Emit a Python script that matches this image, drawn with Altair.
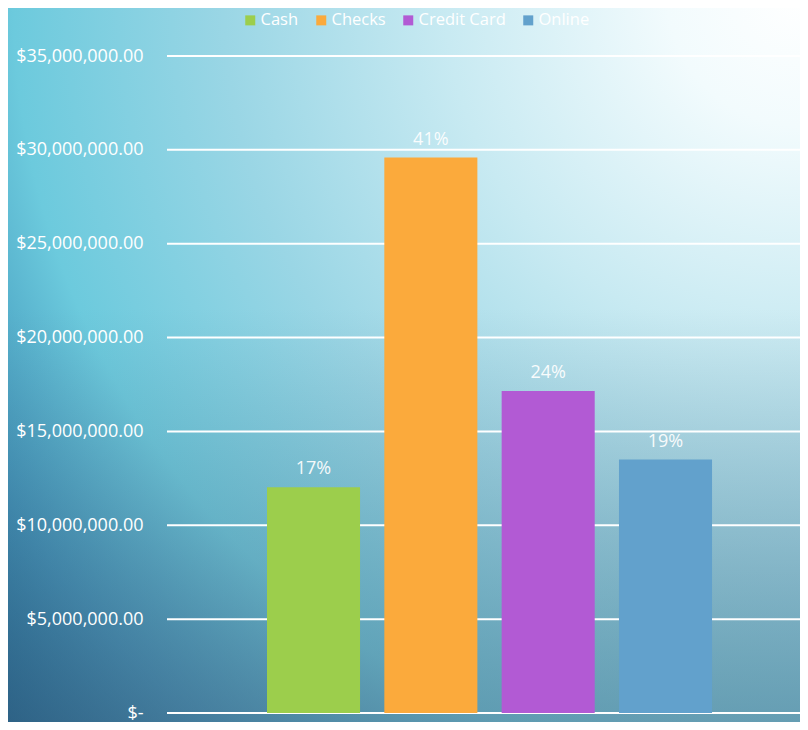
import altair as alt
import pandas as pd

# ---- data ----
methods = ["Cash", "Checks", "Credit Card", "Online"]
amounts = [12_030_000, 29_590_000, 17_160_000, 13_500_000]
pct_labels = ["17%", "41%", "24%", "19%"]
colors = ["#9cce4c", "#fbaa3c", "#b25ad4", "#62a1cc"]
tick_values = [0, 5_000_000, 10_000_000, 15_000_000, 20_000_000,
               25_000_000, 30_000_000, 35_000_000]

FONT = "Open Sans"
W, H = 633, 657
PAD_L, PAD_T, PAD_B = 159, 48, 9

df = pd.DataFrame({"method": methods, "amount": amounts, "label": pct_labels})
grid_df = pd.DataFrame({"v": tick_values})
one = pd.DataFrame({"a": [0]})

y_scale = alt.Scale(domain=[0, 35_000_000], nice=False, zero=True)
x_scale = alt.Scale(domain=methods, paddingInner=0.207, paddingOuter=0.801, align=0.532)

radial = {
    "gradient": "radial",
    "x1": 1, "y1": 0.03, "r1": 0,
    "x2": 1, "y2": 0.03, "r2": 1.4,
    "stops": [
        {"offset": 0.0, "color": "#ffffff"},
        {"offset": 0.12, "color": "#f2fbfd"},
        {"offset": 0.32, "color": "#c8eaf2"},
        {"offset": 0.52, "color": "#9ad6e5"},
        {"offset": 0.71, "color": "#6ccadd"},
        {"offset": 0.85, "color": "#3a8fb6"},
        {"offset": 1.0, "color": "#04507f"},
    ],
}
overlay = {
    "gradient": "linear",
    "x1": 0, "y1": 0, "x2": 0, "y2": 1,
    "stops": [
        {"offset": 0.0, "color": "rgba(80,105,130,0)"},
        {"offset": 0.42, "color": "rgba(80,105,130,0)"},
        {"offset": 1.0, "color": "rgba(80,105,130,0.48)"},
    ],
}

bg_enc = dict(x=alt.value(-PAD_L), x2=alt.value(W), y=alt.value(-PAD_T), y2=alt.value(H + PAD_B))
bg = alt.Chart(one).mark_rect(color=radial, strokeWidth=0).encode(**bg_enc)
bg2 = alt.Chart(one).mark_rect(color=overlay, strokeWidth=0).encode(**bg_enc)

grid = alt.Chart(grid_df).mark_rule(color="white", strokeWidth=2).encode(
    y=alt.Y("v:Q", scale=y_scale, axis=alt.Axis(
        values=tick_values,
        labelExpr="datum.value == 0 ? '$-\u2007\u2007' : '$' + format(datum.value, ',.2f')",
        grid=False, domain=False, ticks=False,
        labelColor="white", labelFont=FONT, labelFontSize=18,
        labelPadding=24, title=None, zindex=1,
    )),
    x=alt.value(0), x2=alt.value(W),
)

bars = alt.Chart(df).mark_bar(strokeWidth=0).encode(
    x=alt.X("method:N", sort=methods, scale=x_scale, axis=None),
    y=alt.Y("amount:Q", scale=y_scale),
    color=alt.Color("method:N", sort=methods,
                    scale=alt.Scale(domain=methods, range=colors),
                    legend=alt.Legend(
                        orient="none", legendX=75, legendY=-44,
                        direction="horizontal", columns=4, title=None,
                        symbolType="square", symbolSize=100, symbolStrokeWidth=0,
                        symbolOpacity=1,
                        labelColor="white", labelFont=FONT, labelFontSize=16.5,
                        labelOffset=2, columnPadding=14, padding=0, zindex=1,
                    )),
)

texts = alt.Chart(df).mark_text(
    dy=-13, baseline="alphabetic", align="center",
    color="white", opacity=0.92, font=FONT, fontSize=18,
).encode(
    x=alt.X("method:N", sort=methods, scale=x_scale, axis=None),
    y=alt.Y("amount:Q", scale=y_scale),
    text="label:N",
)

chart = alt.layer(bg, bg2, grid, bars, texts).properties(
    width=W, height=H,
    autosize=alt.AutoSizeParams(type="none"),
    padding={"left": PAD_L, "top": PAD_T, "right": 0, "bottom": PAD_B},
).configure_view(stroke=None).resolve_scale(y="shared")

chart.save("out.html", embed_options={"renderer": "svg", "actions": False})
